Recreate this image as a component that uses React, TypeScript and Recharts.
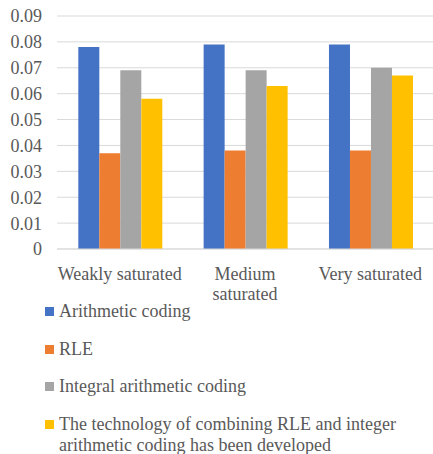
import { BarChart, Bar, XAxis, YAxis, CartesianGrid, Legend } from "recharts"

const categories = ["Weakly saturated", "Medium saturated", "Very saturated"]
const categoryLines = [["Weakly saturated"], ["Medium", "saturated"], ["Very saturated"]]

const arithmetic = [0.078, 0.079, 0.079]
const rle = [0.037, 0.038, 0.038]
const integral = [0.069, 0.069, 0.07]
const combined = [0.058, 0.063, 0.067]

const yTicks = [0, 0.01, 0.02, 0.03, 0.04, 0.05, 0.06, 0.07, 0.08, 0.09]

const series = [
  { key: "arithmetic", name: "Arithmetic coding", color: "#4472C4" },
  { key: "rle", name: "RLE", color: "#ED7D31" },
  { key: "integral", name: "Integral arithmetic coding", color: "#A5A5A5" },
  {
    key: "combined",
    name: "The technology of combining RLE and integer arithmetic coding has been developed",
    color: "#FFC000",
  },
]

const data = categories.map((c, i) => ({
  category: c,
  arithmetic: arithmetic[i],
  rle: rle[i],
  integral: integral[i],
  combined: combined[i],
}))

const FONT = "'Liberation Serif', 'Times New Roman', serif"
const TEXT = "#595959"

const CategoryTick = ({ x, y, index }: any) => {
  const lines = categoryLines[index] || []
  return (
    <text x={x} y={y} textAnchor="middle" fill={TEXT} style={{ fontFamily: FONT, fontSize: 18 }}>
      {lines.map((l, i) => (
        <tspan key={i} x={x} y={y + 29 + i * 20}>
          {l}
        </tspan>
      ))}
    </text>
  )
}

const LegendList = () => (
  <div style={{ height: 155, paddingTop: 2, boxSizing: "border-box", fontFamily: FONT, fontSize: 18, color: TEXT }}>
    {series.map((s) => (
      <div key={s.key} style={{ display: "flex", alignItems: "flex-start", marginBottom: 16.5, paddingLeft: 45 }}>
        <span style={{ width: 9, height: 9, background: s.color, marginTop: 6, marginRight: 5, flex: "none" }} />
        <span style={{ lineHeight: "21px", maxWidth: 360 }}>{s.name}</span>
      </div>
    ))}
  </div>
)

export default function App() {
  return (
    <div style={{ position: "absolute", left: 0, top: 0, width: 433, height: 454, background: "#fff", fontFamily: FONT }}>
      <BarChart
        width={433}
        height={454}
        data={data}
        margin={{ top: 16, right: 0, bottom: 0, left: 0 }}
        barCategoryGap="17%"
        barGap={0}
        style={{ fontFamily: FONT }}
      >
        <CartesianGrid vertical={false} stroke="#d9d9d9" />
        <XAxis
          dataKey="category"
          height={50}
          tick={<CategoryTick />}
          tickLine={false}
          tickSize={0}
          axisLine={{ stroke: "#d9d9d9" }}
          interval={0}
        />
        <YAxis
          width={57}
          domain={[0, 0.09]}
          ticks={yTicks}
          interval={0}
          axisLine={false}
          tickLine={false}
          tickSize={0}
          tickMargin={15}
          tickFormatter={(v: number) => (v === 0 ? "0" : v.toFixed(2))}
          tick={{ fill: TEXT, fontSize: 18, style: { fontFamily: FONT } }}
        />
        <Legend verticalAlign="bottom" align="left" layout="horizontal" content={<LegendList />} />
        {series.map((s) => (
          <Bar key={s.key} dataKey={s.key} name={s.name} fill={s.color} isAnimationActive={false} />
        ))}
      </BarChart>
    </div>
  )
}
